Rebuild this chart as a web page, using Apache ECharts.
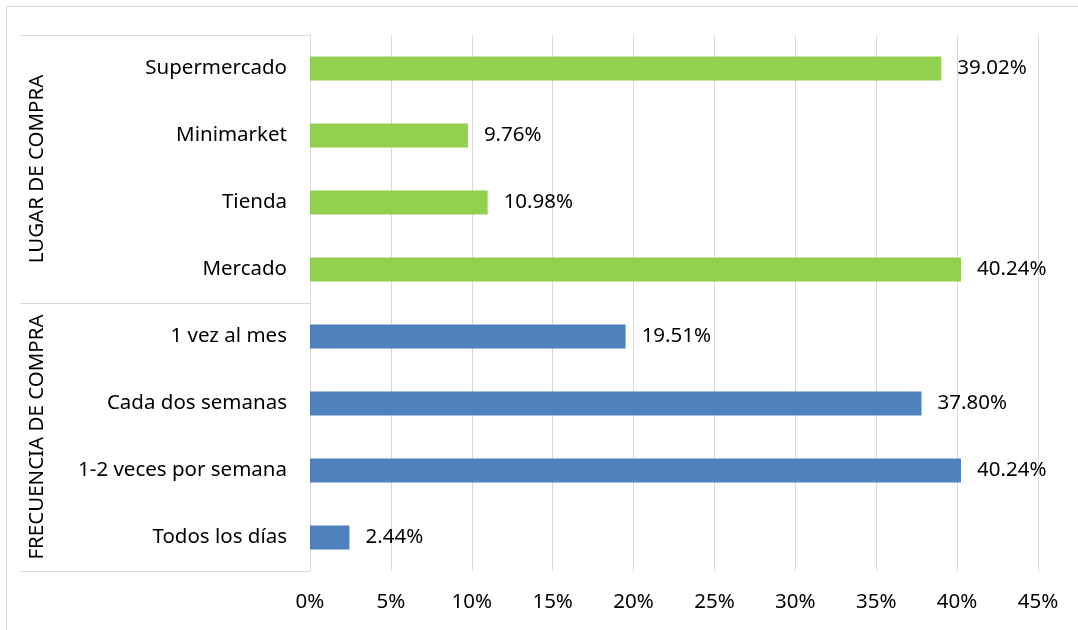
<!DOCTYPE html>
<html>
<head>
<meta charset="utf-8">
<script src="https://cdn.jsdelivr.net/npm/echarts@6/dist/echarts.min.js"></script>
<style>
html,body{margin:0;padding:0;background:#fff;}
#chart{width:1078px;height:630px;}
</style>
</head>
<body>
<div id="chart"></div>
<script>
// Data (top to bottom as shown)
const groupNames = ['LUGAR DE COMPRA', 'FRECUENCIA DE COMPRA'];
const lugarCategories = ['Supermercado', 'Minimarket', 'Tienda', 'Mercado'];
const lugarValues = [39.02, 9.76, 10.98, 40.24];
const frecuenciaCategories = ['1 vez al mes', 'Cada dos semanas', '1-2 veces por semana', 'Todos los días'];
const frecuenciaValues = [19.51, 37.80, 40.24, 2.44];
const xTicks = [0, 5, 10, 15, 20, 25, 30, 35, 40, 45];

const categories = lugarCategories.concat(frecuenciaCategories);
const lugarSeries = lugarValues.concat(frecuenciaCategories.map(() => '-'));
const frecSeries = lugarCategories.map(() => '-').concat(frecuenciaValues);

const FONT = 'Noto Sans';
const FS = 20.5;
const grey = '#d9d9d9';
const chart = echarts.init(document.getElementById('chart'), null, {renderer: 'canvas'});

const labelOpt = {
  show: true,
  position: 'right',
  distance: 16,
  fontFamily: FONT,
  fontSize: FS,
  color: '#000',
  padding: [4, 0, 0, 0],
  formatter: p => p.value.toFixed(2) + '%'
};

chart.setOption({
  animation: false,
  backgroundColor: '#fff',
  textStyle: {fontFamily: FONT},
  graphic: [{
    type: 'rect',
    shape: {x: 6.5, y: 6.5, width: 1100, height: 700},
    style: {fill: 'none', stroke: grey, lineWidth: 1},
    silent: true
  }],
  grid: {left: 310, right: 40, top: 35, bottom: 59, containLabel: false},
  xAxis: {
    type: 'value',
    min: xTicks[0],
    max: xTicks[xTicks.length - 1],
    interval: 5,
    axisLine: {show: false},
    axisTick: {show: false},
    splitLine: {show: true, lineStyle: {color: grey, width: 1}},
    axisLabel: {
      fontFamily: FONT, fontSize: FS, color: '#000', margin: 21,
      formatter: '{value}%'
    }
  },
  yAxis: [{
    type: 'category',
    inverse: true,
    data: categories,
    axisLine: {show: true, lineStyle: {color: grey, width: 1}},
    axisTick: {show: false},
    axisLabel: {fontFamily: FONT, fontSize: FS, color: '#000', margin: 23, interval: 0, padding: [4, 0, 0, 0]}
  }, {
    type: 'category',
    inverse: true,
    position: 'left',
    offset: 290,
    data: groupNames,
    axisLine: {show: false},
    axisTick: {show: true, inside: true, length: 290, interval: 0, lineStyle: {color: grey, width: 1}},
    axisLabel: {
      inside: true, rotate: 90, margin: 7, interval: 0,
      fontFamily: FONT, fontSize: FS, color: '#000'
    },
    splitLine: {show: false}
  }],
  series: [{
    name: 'Lugar de compra',
    type: 'bar',
    yAxisIndex: 0,
    data: lugarSeries,
    barWidth: 24,
    barGap: '-100%',
    itemStyle: {color: '#92D050'},
    label: labelOpt
  }, {
    name: 'Frecuencia de compra',
    type: 'bar',
    yAxisIndex: 0,
    data: frecSeries,
    barWidth: 24,
    barGap: '-100%',
    itemStyle: {color: '#4F81BD'},
    label: labelOpt
  }]
});
</script>
</body>
</html>
